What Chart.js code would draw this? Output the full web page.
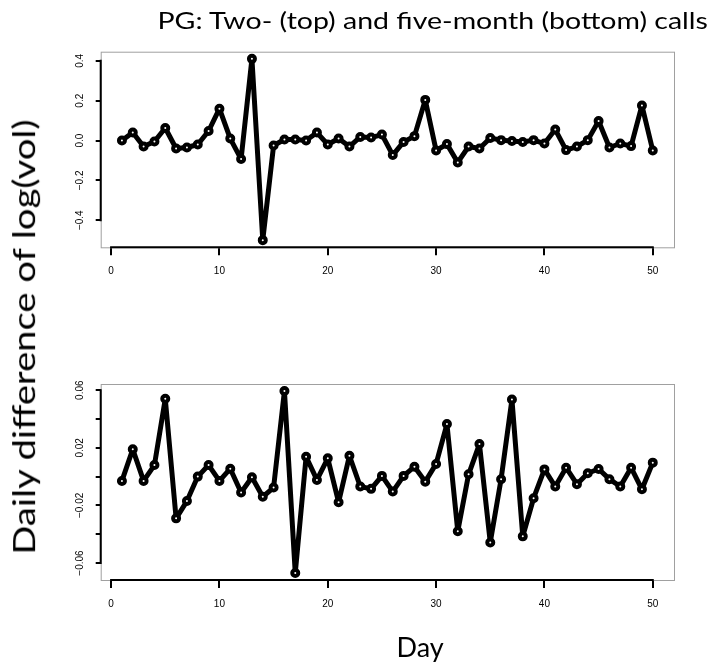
<!DOCTYPE html>
<html>
  <head>
    <script src="https://cdn.jsdelivr.net/npm/chart.js@4/dist/chart.umd.min.js"></script>
    <style>
      body { margin: 0; background: #fff; }
      #wrap { position: relative; width: 710px; height: 662px; overflow: hidden; }
      .txt { position: absolute; font-family: Lato, sans-serif; color: #000; white-space: nowrap; line-height: 1; }
      #title { font-size: 24px; }
      #ylab { font-size: 30px; }
      #xlab { font-size: 27px; }
    </style>
  </head>

  <body>
    <div id="wrap">
      <canvas id="top" style="position:absolute;left:0;top:0"></canvas>
      <canvas id="bottom" style="position:absolute;left:0;top:330px"></canvas>
      <div class="txt" id="title">PG: Two- (top) and five-month (bottom) calls</div>
      <div class="txt" id="ylab">Daily difference of log(vol)</div>
      <div class="txt" id="xlab">Day</div>
    </div>
    <script>
      const days = [1, 2, 3, 4, 5, 6, 7, 8, 9, 10, 11, 12, 13, 14, 15, 16, 17, 18, 19, 20,
        21, 22, 23, 24, 25, 26, 27, 28, 29, 30, 31, 32, 33, 34, 35, 36, 37, 38, 39, 40,
        41, 42, 43, 44, 45, 46, 47, 48, 49, 50];

      // two-month calls
      const twoMonth = [0.00, 0.04, -0.03, -0.005, 0.063, -0.04, -0.035, -0.02, 0.048, 0.16,
        0.01, -0.093, 0.41, -0.50, -0.025, 0.005, 0.005, 0.00, 0.04, -0.02,
        0.01, -0.03, 0.018, 0.015, 0.03, -0.073, -0.007, 0.022, 0.204, -0.05,
        -0.018, -0.11, -0.03, -0.04, 0.013, 0.002, -0.002, -0.007, 0.002, -0.015,
        0.055, -0.048, -0.03, 0.002, 0.098, -0.035, -0.015, -0.028, 0.176, -0.05];

      // five-month calls
      const fiveMonth = [-0.003, 0.019, -0.003, 0.008, 0.054, -0.029, -0.017, 0.000, 0.008, -0.003,
        0.0055, -0.011, -0.0005, -0.014, -0.0076, 0.0595, -0.067, 0.0138, -0.0023, 0.0127,
        -0.0178, 0.0145, -0.0069, -0.0085, 0.0005, -0.0104, 0.0005, 0.0069, -0.0035, 0.0088,
        0.0365, -0.038, 0.0016, 0.0226, -0.0457, -0.0018, 0.0535, -0.0415, -0.015, 0.005,
        -0.0069, 0.0062, -0.0053, 0.0023, 0.0053, -0.0018, -0.0069, 0.0062, -0.0088, 0.0097];

      const topYTicks = [-0.4, -0.2, 0.0, 0.2, 0.4];
      const bottomYLabels = [-0.06, -0.02, 0.02, 0.06];

      function fmtTop(v) {
        return (v < 0 ? '\u2212' : '') + Math.abs(v).toFixed(1);
      }
      function fmtBottom(v) {
        return (v < 0 ? '\u2212' : '') + Math.abs(v).toFixed(2);
      }

      // place a text block: centre (cx, cy), stretched to length len, optional rotation
      function place(id, cx, cy, len, rot) {
        const el = document.getElementById(id);
        const w = el.offsetWidth, h = el.offsetHeight;
        el.style.left = (cx - w / 2) + 'px';
        el.style.top = (cy - h / 2) + 'px';
        const sx = len ? len / w : 1;
        el.style.transform = (rot ? 'rotate(' + rot + 'deg) ' : '') + 'scaleX(' + sx + ')';
      }

      // R-like axes: black lines from first to last tick, grey box, rotated y labels
      const rAxes = {
        id: 'rAxes',
        afterDraw(chart, args, opts) {
          const ctx = chart.ctx;
          const a = chart.chartArea;
          const xs = chart.scales.x;
          const ys = chart.scales.y;
          ctx.save();
          ctx.strokeStyle = '#a0a0a0';
          ctx.lineWidth = 1;
          ctx.strokeRect(a.left + 0.5, a.top + 0.5, a.right - a.left, a.bottom - a.top);
          ctx.strokeStyle = '#000';
          ctx.lineWidth = 2;
          ctx.beginPath();
          ctx.moveTo(a.left, ys.getPixelForValue(opts.yFirst) + 1);
          ctx.lineTo(a.left, ys.getPixelForValue(opts.yLast) - 1);
          ctx.moveTo(xs.getPixelForValue(0) - 1, a.bottom);
          ctx.lineTo(xs.getPixelForValue(50) + 1, a.bottom);
          ctx.stroke();
          ctx.fillStyle = '#000';
          ctx.font = '10px "Liberation Sans", Arial, sans-serif';
          ctx.textAlign = 'center';
          ctx.textBaseline = 'middle';
          opts.labels.forEach((v) => {
            const y = ys.getPixelForValue(v);
            ctx.save();
            ctx.translate(a.left - 20, y);
            ctx.rotate(-Math.PI / 2);
            ctx.fillText(opts.fmt(v), 0, 0);
            ctx.restore();
          });
          ctx.restore();
        },
      };

      function makeChart(id, h, values, yMin, yMax, yStep, pad, axisOpts) {
        const el = document.getElementById(id);
        el.width = 710;
        el.height = h;
        return new Chart(el.getContext('2d'), {
          type: 'line',
          data: {
            datasets: [
              {
                data: days.map((d, i) => ({ x: d, y: values[i] })),
                borderColor: '#000',
                borderWidth: 5,
                borderJoinStyle: 'round',
                borderCapStyle: 'round',
                pointRadius: 3,
                pointBorderWidth: 4,
                pointBackgroundColor: '#fff',
                pointBorderColor: '#000',
                tension: 0,
              },
            ],
          },
          options: {
            responsive: false,
            animation: false,
            events: [],
            layout: { padding: pad },
            plugins: {
              legend: { display: false },
              tooltip: { enabled: false },
              rAxes: axisOpts,
            },
            scales: {
              x: {
                type: 'linear',
                min: -0.96,
                max: 51.96,
                afterFit: (s) => { s.height = 40; },
                border: { display: false },
                grid: { drawOnChartArea: false, color: '#000', lineWidth: 2, tickLength: 8 },
                ticks: {
                  stepSize: 10,
                  includeBounds: false,
                  color: '#000',
                  padding: 10,
                  maxRotation: 0,
                  font: { family: '"Liberation Sans", Arial, sans-serif', size: 10 },
                },
              },
              y: {
                min: yMin,
                max: yMax,
                afterFit: (s) => { s.width = 40; },
                border: { display: false },
                grid: { drawOnChartArea: false, color: '#000', lineWidth: 2, tickLength: 5 },
                ticks: { stepSize: yStep, includeBounds: false, display: false },
              },
            },
          },
          plugins: [rAxes],
        });
      }

      makeChart('top', 320, twoMonth, -0.536, 0.446, 0.2,
        { left: 60.7, right: 36, top: 51.7, bottom: 32.7 },
        { yFirst: -0.4, yLast: 0.4, labels: topYTicks, fmt: fmtTop });

      makeChart('bottom', 332, fiveMonth, -0.0718, 0.0643, 0.02,
        { left: 60.7, right: 36, top: 54, bottom: 42 },
        { yFirst: -0.06, yLast: 0.06, labels: bottomYLabels, fmt: fmtBottom });

      place('title', 432, 20, 550, 0);
      place('ylab', 23, 337, 435, -90);
      place('xlab', 420, 646, 0, 0);
    </script>
  </body>
</html>
